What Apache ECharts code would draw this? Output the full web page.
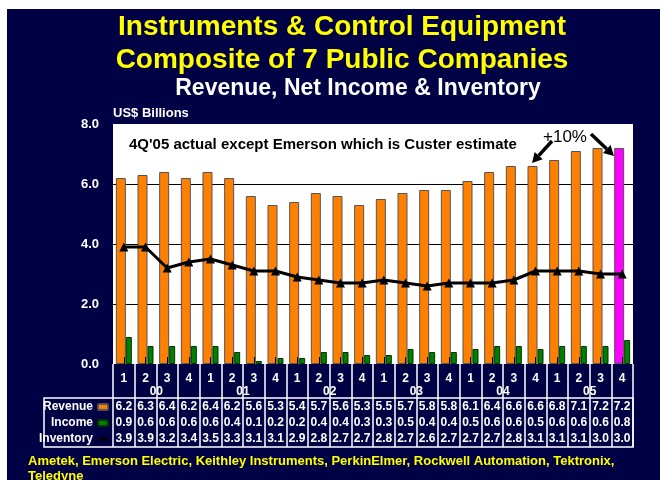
<!DOCTYPE html>
<html><head><meta charset="utf-8">
<script src="https://cdn.jsdelivr.net/npm/echarts@6/dist/echarts.min.js"></script>
<style>
html,body{margin:0;padding:0;background:#fff;}
#bg{position:absolute;left:7px;top:9px;width:653px;height:471px;background:#000044;}
#chart{position:absolute;left:0;top:0;width:660px;height:480px;}
</style></head><body>
<div id="bg"></div><div id="chart"></div>
<script>
const quarters = ['1','2','3','4','1','2','3','4','1','2','3','4','1','2','3','4','1','2','3','4','1','2','3','4'];
const years = ['00','01','02','03','04','05'];
const revenue = [6.2,6.3,6.4,6.2,6.4,6.2,5.6,5.3,5.4,5.7,5.6,5.3,5.5,5.7,5.8,5.8,6.1,6.4,6.6,6.6,6.8,7.1,7.2,7.2];
const income = [0.9,0.6,0.6,0.6,0.6,0.4,0.1,0.2,0.2,0.4,0.4,0.3,0.3,0.5,0.4,0.4,0.5,0.6,0.6,0.5,0.6,0.6,0.6,0.8];
const inventory = [3.9,3.9,3.2,3.4,3.5,3.3,3.1,3.1,2.9,2.8,2.7,2.7,2.8,2.7,2.6,2.7,2.7,2.7,2.8,3.1,3.1,3.1,3.0,3.0];
const seriesNames = ['Revenue','Income','Inventory'];
const titleLines = ['Instruments & Control Equipment','Composite of 7 Public Companies'];
const subTitle = 'Revenue, Net Income & Inventory';
const note = "4Q'05 actual except Emerson which is Custer estimate";
const growthNote = '+10%';
const footerLines = ['Ametek, Emerson Electric, Keithley Instruments, PerkinElmer, Rockwell Automation, Tektronix,','Teledyne'];

const FONT = '"Liberation Sans", Arial, sans-serif';
const fmt = v => v.toFixed(1);
const chart = echarts.init(document.getElementById('chart'));

function tableAxis(data, margin) {
  return {
    type:'category', data, position:'bottom', gridIndex:0, boundaryGap:true,
    axisLine:{show:false}, axisTick:{show:false}, splitLine:{show:false},
    axisLabel:{interval:0, margin, color:'#fff', fontWeight:'bold', fontSize:12, fontFamily:FONT, lineHeight:14}
  };
}

// arrow annotation: shaft + head, given start and tip
function arrow(x1, y1, x2, y2) {
  const dx = x2 - x1, dy = y2 - y1, len = Math.hypot(dx, dy);
  const ux = dx / len, uy = dy / len, px = -uy, py = ux;
  const hl = 10, hw = 5.5;
  const bx = x2 - ux * hl, by = y2 - uy * hl;
  return [
    {type:'line', z:20, shape:{x1, y1, x2:bx, y2:by}, style:{stroke:'#000', lineWidth:3.5}},
    {type:'polygon', z:20, shape:{points:[[x2,y2],[bx+px*hw, by+py*hw],[bx-px*hw, by-py*hw]]}, style:{fill:'#000'}}
  ];
}

const last = revenue.length - 1;
const option = {
  animation:false,
  grid:{left:113, right:27, top:124, bottom:116, show:true, backgroundColor:'#fff', borderWidth:0},
  legend:{
    orient:'vertical', right:551, top:400, padding:0, itemGap:2, align:'right',
    itemWidth:10, itemHeight:6, selectedMode:false,
    textStyle:{color:'#fff', fontWeight:'bold', fontSize:12, fontFamily:FONT, lineHeight:14},
    data:seriesNames
  },
  xAxis:[
    {type:'category', data:quarters, position:'bottom', boundaryGap:true, z:10,
     axisLine:{show:false},
     axisTick:{show:true, inside:true, alignWithLabel:true, length:7, interval:0, lineStyle:{color:'#000', width:1}},
     axisLabel:{interval:0, margin:8, color:'#fff', fontWeight:'bold', fontSize:12, fontFamily:FONT, lineHeight:14}},
    {type:'category', data:quarters, position:'bottom', boundaryGap:true,
     axisLine:{show:false}, axisLabel:{show:false},
     axisTick:{show:true, inside:false, length:83, interval:0, lineStyle:{color:'#fff', width:1.5}}},
    tableAxis(years, 21),
    tableAxis(revenue.map(fmt), 36),
    tableAxis(income.map(fmt), 52),
    tableAxis(inventory.map(fmt), 68)
  ],
  yAxis:{type:'value', min:0, max:8, interval:2, position:'left',
    name:'US$ Billions', nameLocation:'end', nameGap:11,
    nameTextStyle:{color:'#fff', fontWeight:'bold', fontSize:13, fontFamily:FONT, align:'left', verticalAlign:'middle'},
    axisLine:{show:false}, axisTick:{show:false},
    axisLabel:{color:'#fff', fontWeight:'bold', fontSize:13, fontFamily:FONT, margin:14, formatter:v=>v.toFixed(1)},
    splitLine:{show:true, showMaxLine:false, showMinLine:false, lineStyle:{color:'#000', width:1}}},
  series:[
    {name:seriesNames[0], type:'bar', xAxisIndex:0,
     data:revenue.map((v,i)=> i===last ? {value:v, itemStyle:{color:'#ff00ff'}} : v),
     barWidth:10, barGap:'0%',
     itemStyle:{color:'#ff8000', borderColor:'#555', borderWidth:1}, emphasis:{disabled:true}},
    {name:seriesNames[1], type:'bar', xAxisIndex:0, data:income, barWidth:6, barGap:'0%',
     itemStyle:{color:'#008000', borderColor:'#003300', borderWidth:1}, emphasis:{disabled:true}},
    {name:seriesNames[2], type:'line', xAxisIndex:0, data:inventory,
     symbol:'triangle', symbolSize:9, lineStyle:{color:'#000', width:3}, itemStyle:{color:'#000'},
     emphasis:{disabled:true}}
  ],
  graphic:[
    {type:'text', x:342, y:27, style:{text:titleLines[0], fill:'#ffff00', font:'bold 28px '+FONT, align:'center', verticalAlign:'middle'}},
    {type:'text', x:342, y:60, style:{text:titleLines[1], fill:'#ffff00', font:'bold 28px '+FONT, align:'center', verticalAlign:'middle'}},
    {type:'text', x:358, y:89, style:{text:subTitle, fill:'#ffffff', font:'bold 23px '+FONT, align:'center', verticalAlign:'middle'}},
    {type:'text', x:129, y:145, z:20, style:{text:note, fill:'#000', font:'bold 15px '+FONT, align:'left', verticalAlign:'middle'}},
    {type:'text', x:543, y:137, z:20, style:{text:growthNote, fill:'#000', font:'17px '+FONT, align:'left', verticalAlign:'middle'}},
    ...arrow(552, 141, 532, 163),
    ...arrow(591, 134, 614, 156),
    {type:'text', x:28, y:461, style:{text:footerLines[0], fill:'#ffff00', font:'bold 13px '+FONT, align:'left', verticalAlign:'middle'}},
    {type:'text', x:28, y:476, style:{text:footerLines[1], fill:'#ffff00', font:'bold 13px '+FONT, align:'left', verticalAlign:'middle'}},
    {type:'rect', shape:{x:44, y:398, width:589, height:49}, style:{fill:'none', stroke:'#fff', lineWidth:1.5}}
  ]
};
chart.setOption(option);
</script>
</body></html>
